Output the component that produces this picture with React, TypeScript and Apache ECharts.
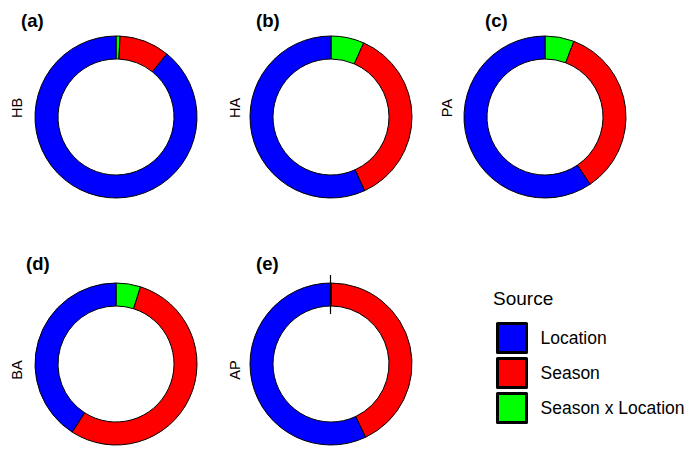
import React, { useEffect, useRef } from "react";
import * as echarts from "echarts";

// ---- data ----
const panelLabels = ["(a)", "(b)", "(c)", "(d)", "(e)"];
const traits = ["HB", "HA", "PA", "BA", "AP"];
const sources = ["Location", "Season", "Season x Location"];
const locationPct = [89.2, 56.8, 59.4, 40.9, 57.0];
const seasonPct = [10.0, 36.6, 34.8, 54.2, 43.0];
const interactionPct = [0.8, 6.6, 5.8, 4.9, 0];
const sourceColors = ["#0000FF", "#FF0000", "#00FF00"];

// ---- layout ----
const centers = [
  [116, 117],
  [331, 117],
  [545, 117],
  [116, 364],
  [331, 364],
];
const labelPos = [
  [21, 20],
  [256, 20],
  [485, 20],
  [26, 263],
  [256, 263],
];
const traitPos = [
  [17, 108],
  [235, 108],
  [447, 108],
  [17, 370],
  [235, 370],
];
const R_IN = 58;
const R_OUT = 81;
const FONT = "'Liberation Sans', Arial, Helvetica, sans-serif";

export default function App() {
  const ref = useRef<HTMLDivElement>(null);
  useEffect(() => {
    document.body.style.margin = "0";
    const chart = echarts.init(ref.current!, null, { renderer: "svg" });
    const series = traits.map((t, i) => ({
      type: "pie",
      name: t,
      center: centers[i],
      radius: [R_IN, R_OUT],
      startAngle: 90,
      clockwise: true,
      label: { show: false },
      labelLine: { show: false },
      emphasis: { disabled: true },
      silent: true,
      itemStyle: { borderColor: "#000", borderWidth: 1 },
      data: [
        { name: sources[2], value: interactionPct[i], itemStyle: { color: sourceColors[2] } },
        { name: sources[1], value: seasonPct[i], itemStyle: { color: sourceColors[1] } },
        { name: sources[0], value: locationPct[i], itemStyle: { color: sourceColors[0] } },
      ],
    }));
    const graphics: any[] = [];
    panelLabels.forEach((l, i) => {
      graphics.push({
        type: "text",
        x: labelPos[i][0],
        y: labelPos[i][1],
        style: { text: l, font: `bold 18.5px ${FONT}`, fill: "#000", align: "left", verticalAlign: "middle" },
      });
    });
    traits.forEach((t, i) => {
      graphics.push({
        type: "text",
        x: traitPos[i][0],
        y: traitPos[i][1],
        rotation: Math.PI / 2,
        style: { text: t, font: `14.5px ${FONT}`, fill: "#000", align: "center", verticalAlign: "middle" },
      });
    });
    // tick marking zero-size slice boundaries
    interactionPct.forEach((v, i) => {
      if (v === 0) {
        graphics.push({
          type: "line",
          shape: {
            x1: centers[i][0] - 0.5,
            y1: centers[i][1] - R_OUT - 8,
            x2: centers[i][0] - 0.5,
            y2: centers[i][1] - R_IN + 8,
          },
          style: { stroke: "#000", lineWidth: 1.2 },
          z: 10,
        });
      }
    });
    graphics.push({
      type: "text",
      x: 493,
      y: 298,
      style: { text: "Source", font: `19px ${FONT}`, fill: "#000", align: "left", verticalAlign: "middle" },
    });
    chart.setOption({
      animation: false,
      backgroundColor: "#fff",
      legend: {
        data: sources,
        orient: "vertical",
        left: 496,
        top: 322,
        itemWidth: 29,
        itemHeight: 29,
        itemGap: 3,
        icon: "rect",
        itemStyle: { borderColor: "#000", borderWidth: 3 },
        textStyle: { fontSize: 17.5, fontFamily: FONT, color: "#000", padding: [0, 0, 0, 9] },
        selectedMode: false,
        padding: 0,
      },
      series,
      graphic: graphics,
    });
    return () => chart.dispose();
  }, []);
  return <div ref={ref} style={{ width: 698, height: 454 }} />;
}
